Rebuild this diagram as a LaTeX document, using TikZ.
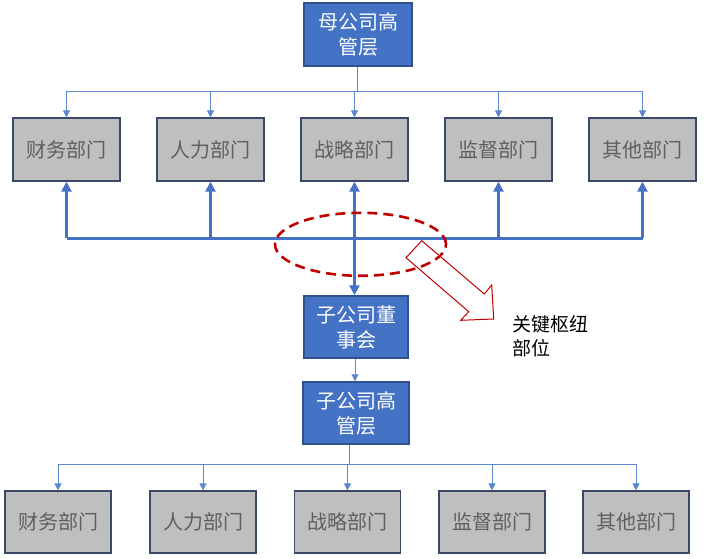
\documentclass[tikz,border=0pt]{standalone}
\usepackage{fontspec}
\newfontfamily\cjk{Noto Sans CJK SC}
\usetikzlibrary{arrows.meta,shapes.geometric}
\definecolor{bluefill}{HTML}{4472C4}
\definecolor{blueedge}{HTML}{2F528F}
\definecolor{grayfill}{HTML}{BFBFBF}
\definecolor{grayedge}{HTML}{3A4A66}
\definecolor{graytext}{HTML}{5F5F5F}
\definecolor{thinline}{HTML}{5B87D0}
\definecolor{keyred}{HTML}{C00000}
\tikzset{
  bluebox/.style={draw=blueedge, line width=1.5pt, fill=bluefill, text=white,
    minimum width=106pt, minimum height=62pt, inner sep=0pt, align=center,
    font=\cjk\fontsize{20}{25}\selectfont},
  deptbox/.style={draw=grayedge, line width=1.2pt, fill=grayfill, text=graytext,
    minimum width=106pt, minimum height=62pt, inner sep=0pt,
    font=\cjk\fontsize{20}{24}\selectfont},
  thinarr/.style={draw=thinline, line width=1pt, -{Triangle[length=7pt,width=7pt]}},
  thickline/.style={draw=bluefill, line width=3pt},
  thickarr/.style={draw=bluefill, line width=3pt, -{Triangle[length=10pt,width=10pt]}},
  thickboth/.style={draw=bluefill, line width=3pt, {Triangle[length=10pt,width=10pt]}-{Triangle[length=10pt,width=10pt]}},
  keyring/.style={ellipse, draw=keyred, line width=2.6pt, dash pattern=on 10pt off 6pt,
    minimum width=171pt, minimum height=63pt, inner sep=0pt},
  hollow/.style={draw=keyred, line width=1pt, line join=miter},
  keylabel/.style={anchor=north west, align=left, inner sep=0pt, text=black,
    font=\cjk\fontsize{19}{24}\selectfont}
}
\begin{document}
\begin{tikzpicture}[x=1pt,y=-1pt]
\useasboundingbox (0,0) rectangle (704,559);
% parent top
\node[bluebox, minimum width=108pt, minimum height=63pt] (top) at (358,34.5) {母公司高\\管层};
\node[deptbox, minimum width=107pt, minimum height=63pt] (a1) at (66.5,149.5) {财务部门};
\node[deptbox, minimum width=107pt, minimum height=63pt] (a2) at (210.5,149.5) {人力部门};
\node[deptbox, minimum width=107pt, minimum height=63pt] (a3) at (354.5,149.5) {战略部门};
\node[deptbox, minimum width=107pt, minimum height=63pt] (a4) at (498.5,149.5) {监督部门};
\node[deptbox, minimum width=107pt, minimum height=63pt] (a5) at (642.5,149.5) {其他部门};
\coordinate (tbus) at (0,92);
\coordinate (ttop) at ([xshift=-1pt]top.south);
\foreach \i in {1,...,5}{
  \draw[thinarr] (ttop) -- (ttop |- tbus) -| (a\i.north);
}
% thick bus
\coordinate (bus) at (0,238);
\draw[thickline] (a1.south |- bus) -- (a5.south |- bus);
\foreach \i in {1,2,4,5}{
  \draw[thickarr] (a\i.south |- bus) -- (a\i.south);
}
% subsidiary board
\node[bluebox, minimum width=104pt] (sb) at (356,327) {子公司董\\事会};
\draw[thickboth] (a3.south) -- (a3.south |- sb.north);
% key ring
\node[keyring] (ring) at (360.5,244.3) {};
\draw[hollow] (421.7,240.7) coordinate (h1) -- (484.3,294) -- (491.7,285) -- (493.7,319)
  -- (460.7,320.3) -- (468.7,311.7) -- (406,257.7) -- cycle;
\node[keylabel] (klab) at (512,315) {关键枢纽\\部位};
% subsidiary management
\node[bluebox] (sg) at (356,413) {子公司高\\管层};
\draw[thinarr] ([xshift=-1pt]sb.south) -- ([xshift=-1pt]sg.north);
\node[deptbox] (b1) at (58,522) {财务部门};
\node[deptbox] (b2) at (203,522) {人力部门};
\node[deptbox] (b3) at (347.5,522) {战略部门};
\node[deptbox] (b4) at (492,522) {监督部门};
\node[deptbox] (b5) at (636,522) {其他部门};
\coordinate (bbus) at (0,464);
\coordinate (stop) at ([xshift=-6.5pt]sg.south);
\foreach \i in {1,...,5}{
  \draw[thinarr] (stop) -- (stop |- bbus) -| (b\i.north);
}
\end{tikzpicture}
\end{document}
